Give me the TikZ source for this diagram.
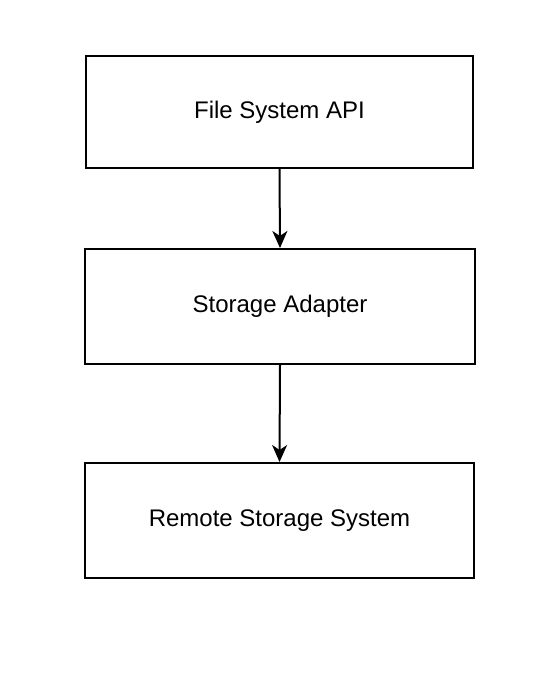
\documentclass[tikz,border=0pt]{standalone}
\usepackage{fontspec}
\setmainfont{Liberation Sans}
\usetikzlibrary{arrows.meta}

\tikzset{
  layer/.style={draw, line width=2pt, minimum width=388pt, minimum height=114pt, inner sep=0pt, font=\fontsize{24}{28}\selectfont},
  link/.style={line width=2pt, -{Stealth[length=17pt, width=15pt, inset=5pt]}}
}

\begin{document}
\begin{tikzpicture}[x=1pt, y=-1pt]

\useasboundingbox (0, 0) rectangle (550, 674);

\node[layer, minimum width=387pt, minimum height=112pt] (api) at (279.5, 112) {File System API};
\node[layer, minimum width=390pt, minimum height=115pt] (adapter) at (280, 306.5) {Storage Adapter};
\node[layer, minimum width=389pt, minimum height=115pt] (remote) at (279.5, 520.5) {Remote Storage System};

\draw[link] (api.south) -- (adapter.north);
\draw[link] (adapter.south) -- (remote.north);

\end{tikzpicture}
\end{document}
